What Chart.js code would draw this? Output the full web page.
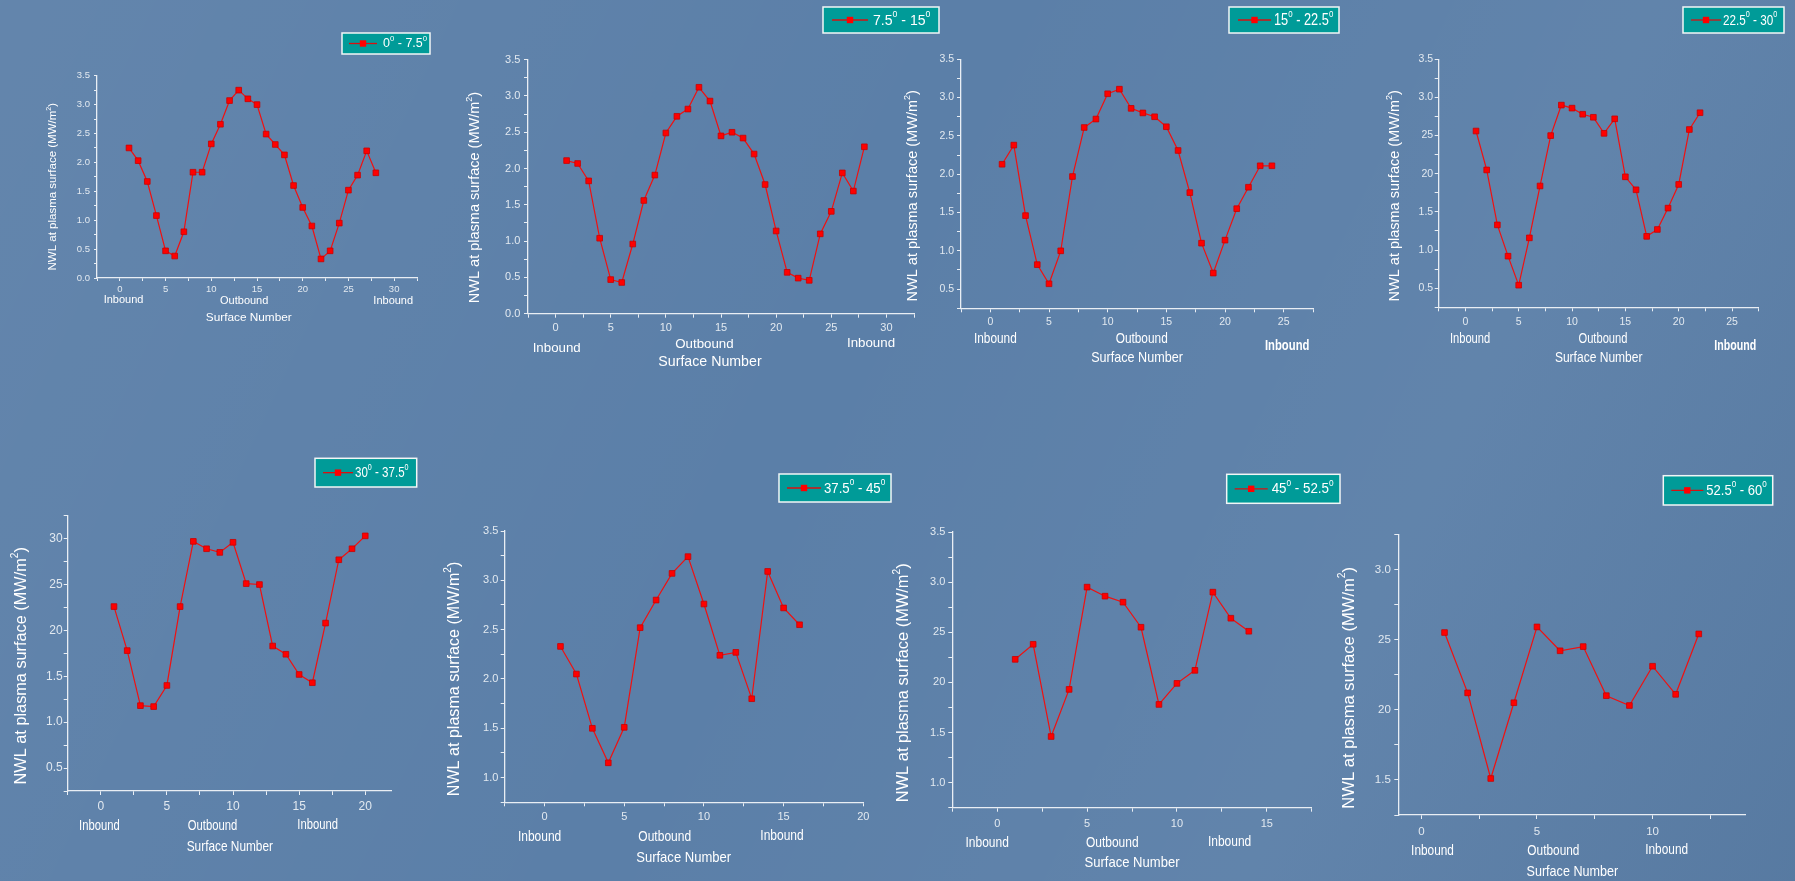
<!DOCTYPE html>
<html>
<head>
<meta charset="utf-8">
<script src="https://cdn.jsdelivr.net/npm/chart.js@4.4.1/dist/chart.umd.min.js"></script>
<style>
  html, body { margin: 0; padding: 0; }
  body {
    width: 1795px; height: 881px; overflow: hidden; position: relative;
    background: linear-gradient(115deg, rgba(255,255,255,0.05) 0%, rgba(255,255,255,0) 45%, rgba(255,255,255,0.04) 75%, rgba(0,0,0,0.04) 100%), #5b7fa8;
  }
  canvas { position: absolute; }
</style>
</head>
<body>
<script>
// surface numbers (x) for each panel
const surfaces28 = [1, 2, 3, 4, 5, 6, 7, 8, 9, 10, 11, 12, 13, 14, 15, 16, 17, 18, 19, 20, 21, 22, 23, 24, 25, 26, 27, 28];
const surfaces24 = [1, 2, 3, 4, 5, 6, 7, 8, 9, 10, 11, 12, 13, 14, 15, 16, 17, 18, 19, 20, 21, 22, 23, 24];
const surfaces22 = [1, 2, 3, 4, 5, 6, 7, 8, 9, 10, 11, 12, 13, 14, 15, 16, 17, 18, 19, 20, 21, 22];
const surfaces20 = [1, 2, 3, 4, 5, 6, 7, 8, 9, 10, 11, 12, 13, 14, 15, 16, 17, 18, 19, 20];
const surfaces16 = [1, 2, 3, 4, 5, 6, 7, 8, 9, 10, 11, 12, 13, 14, 15, 16];
const surfaces14 = [1, 2, 3, 4, 5, 6, 7, 8, 9, 10, 11, 12, 13, 14];
const surfaces12 = [1, 2, 3, 4, 5, 6, 7, 8, 9, 10, 11, 12];

// neutron wall load (MW/m2) per poloidal sector
const nwl_0_75 = [2.25, 2.03, 1.67, 1.08, 0.47, 0.38, 0.80, 1.83, 1.83, 2.32, 2.66, 3.07, 3.25, 3.10, 3.00, 2.49, 2.31, 2.13, 1.60, 1.22, 0.90, 0.33, 0.47, 0.95, 1.52, 1.78, 2.20, 1.82];
const nwl_75_15 = [2.11, 2.07, 1.83, 1.04, 0.47, 0.43, 0.96, 1.56, 1.91, 2.49, 2.72, 2.82, 3.12, 2.93, 2.45, 2.50, 2.42, 2.20, 1.78, 1.14, 0.57, 0.49, 0.46, 1.10, 1.41, 1.94, 1.69, 2.30];
const nwl_15_225 = [2.13, 2.38, 1.46, 0.82, 0.57, 1.00, 1.97, 2.61, 2.72, 3.05, 3.11, 2.86, 2.80, 2.75, 2.62, 2.31, 1.76, 1.10, 0.71, 1.14, 1.55, 1.83, 2.11, 2.11];
const nwl_225_30 = [2.56, 2.05, 1.33, 0.92, 0.54, 1.16, 1.84, 2.50, 2.90, 2.86, 2.78, 2.74, 2.53, 2.72, 1.96, 1.79, 1.18, 1.27, 1.55, 1.86, 2.58, 2.80];
const nwl_30_375 = [2.26, 1.78, 1.18, 1.17, 1.40, 2.26, 2.97, 2.89, 2.85, 2.96, 2.51, 2.50, 1.83, 1.74, 1.52, 1.43, 2.08, 2.77, 2.89, 3.03];
const nwl_375_45 = [2.33, 2.05, 1.50, 1.15, 1.51, 2.52, 2.80, 3.07, 3.24, 2.76, 2.24, 2.27, 1.80, 3.09, 2.72, 2.55];
const nwl_45_525 = [2.23, 2.38, 1.46, 1.93, 2.95, 2.86, 2.80, 2.55, 1.78, 1.99, 2.12, 2.90, 2.64, 2.51];
const nwl_525_60 = [2.55, 2.12, 1.51, 2.05, 2.59, 2.42, 2.45, 2.10, 2.03, 2.31, 2.11, 2.54];

const sectorLabels = ['0⁰ - 7.5⁰', '7.5⁰ - 15⁰', '15⁰ - 22.5⁰', '22.5⁰ - 30⁰', '30⁰ - 37.5⁰', '37.5⁰ - 45⁰', '45⁰ - 52.5⁰', '52.5⁰ - 60⁰'];

// tick labels
const xTicks30 = [0, 5, 10, 15, 20, 25, 30];
const xTicks25 = [0, 5, 10, 15, 20, 25];
const xTicks20 = [0, 5, 10, 15, 20];
const xTicks15 = [0, 5, 10, 15];
const xTicks10 = [0, 5, 10];
const yVals0 = [0, 0.5, 1, 1.5, 2, 2.5, 3, 3.5];
const yLabels0 = ['0.0', '0.5', '1.0', '1.5', '2.0', '2.5', '3.0', '3.5'];
const yVals05 = [0.5, 1, 1.5, 2, 2.5, 3, 3.5];
const yLabels3 = ['0.5', '1.0', '1.5', '2.0', '2.5', '3.0', '3.5'];
const yLabels4 = ['0.5', '1.0', '1.5', '20', '25', '3.0', '3.5'];
const yVals5 = [0.5, 1, 1.5, 2, 2.5, 3];
const yLabels5 = ['0.5', '1.0', '1.5', '20', '25', '30'];
const yVals1 = [1, 1.5, 2, 2.5, 3, 3.5];
const yLabels6 = ['1.0', '1.5', '2.0', '2.5', '3.0', '3.5'];
const yLabels7 = ['1.0', '1.5', '20', '25', '3.0', '3.5'];
const yVals8 = [1.5, 2, 2.5, 3];
const yLabels8 = ['1.5', '20', '25', '3.0'];

const yTitle = 'NWL at plasma surface (MW/m²)';
const xTitle = 'Surface Number';

const FONT = '"Liberation Sans", Arial, sans-serif';
const AXIS = '#e9eef4';
const TICK = '#e2e9f0';
const TEXT = '#ffffff';
const AXIS_W = 40;
const AXIS_H = 25;
Chart.defaults.font.family = FONT;

// page layout for each panel
const panels = [
  { x: surfaces28, y: nwl_0_75, label: sectorLabels[0], canvas: [30, 28, 410, 307], area: [97, 75.7, 417, 278],
    xr: [-2.5, 32.5], yr: [0, 3.5], xt: xTicks30, yv: yVals0, yl: yLabels0,
    tickSize: 9.5, tickLen: 3, xPad: 2.3, yPad: 4,
    legend: { box: [342, 33, 88, 21], line: [7, 35], dx: 41, size: 12.5, hs: 1 },
    title: { x: 53.3, y: 186.7, size: 11.5 },
    lab: { size: 11, hs: 1, items: [['Inbound', 0.4, 22], ['Outbound', 13.6, 23], ['Inbound', 29.9, 23]], sn: [14.1, 39.7, 11.8, 1] } },
  { x: surfaces28, y: nwl_75_15, label: sectorLabels[1], canvas: [455, 0, 490, 375], area: [528, 59.7, 914, 313.7],
    xr: [-2.5, 32.5], yr: [0, 3.5], xt: xTicks30, yv: yVals0, yl: yLabels0,
    tickSize: 11, tickLen: 4, xPad: 3.7, yPad: 3.7,
    legend: { box: [823, 7, 116, 26], line: [9, 45], dx: 50, size: 14.5, hs: 0.97 },
    title: { x: 475, y: 197.5, size: 14.5 },
    lab: { size: 13.3, hs: 1, items: [['Inbound', 0.1, 34.6], ['Outbound', 13.5, 30.3], ['Inbound', 28.6, 29.6]], sn: [14.0, 48, 14.2, 1] } },
  { x: surfaces24, y: nwl_15_225, label: sectorLabels[2], canvas: [895, 0, 450, 370], area: [961, 59.3, 1313, 308.3],
    xr: [-2.5, 27.5], yr: [0.25, 3.5], xt: xTicks25, yv: yVals05, yl: yLabels3,
    tickSize: 10.5, tickLen: 4, xPad: 3.7, yPad: 3,
    legend: { box: [1229, 7, 110, 26], line: [9, 42], dx: 45, size: 16, hs: 0.8 },
    title: { x: 913.3, y: 195.8, size: 14.5 },
    lab: { size: 15, hs: 0.79, items: [['Inbound', 0.43, 31], ['Outbound', 12.9, 31], ['Inbound', 25.3, 37.4, true]], sn: [12.5, 50, 15, 0.84] } },
  { x: surfaces22, y: nwl_225_30, label: sectorLabels[3], canvas: [1377, 0, 418, 370], area: [1438.7, 59.3, 1758.7, 307.3],
    xr: [-2.5, 27.5], yr: [0.25, 3.5], xt: xTicks25, yv: yVals05, yl: yLabels4,
    tickSize: 10.5, tickLen: 4, xPad: 4.7, yPad: 1.5,
    legend: { box: [1683, 7, 101, 26], line: [8, 38], dx: 40, size: 15, hs: 0.78 },
    title: { x: 1395, y: 195.8, size: 14.5 },
    lab: { size: 14.5, hs: 0.77, items: [['Inbound', 0.44, 32], ['Outbound', 12.9, 32], ['Inbound', 25.3, 38.4, true]], sn: [12.5, 51, 14.5, 0.83] } },
  { x: surfaces20, y: nwl_30_375, label: sectorLabels[4], canvas: [0, 452, 425, 408], area: [67.7, 515.7, 391.7, 791],
    xr: [-2.5, 22], yr: [0.25, 3.25], xt: xTicks20, yv: yVals5, yl: yLabels5,
    tickSize: 12, tickLen: 4, xPad: 4.5, yPad: 1,
    legend: { box: [315, 458.3, 101.7, 28.7], line: [8, 38], dx: 40, size: 15, hs: 0.77 },
    title: { x: 21.7, y: 665.8, size: 16.3 },
    lab: { size: 15, hs: 0.75, items: [['Inbound', -0.1, 34.7], ['Outbound', 8.45, 35], ['Inbound', 16.4, 34]], sn: [9.76, 55.7, 15, 0.79] } },
  { x: surfaces16, y: nwl_375_45, label: sectorLabels[5], canvas: [437, 468, 458, 407], area: [504.7, 531, 863.3, 802.3],
    xr: [-2.5, 20], yr: [0.75, 3.5], xt: xTicks20, yv: yVals1, yl: yLabels6,
    tickSize: 11, tickLen: 4, xPad: 4.1, yPad: 2.4,
    legend: { box: [779, 474, 112, 28], line: [8, 42], dx: 45, size: 15, hs: 0.88 },
    title: { x: 455, y: 679, size: 16.1 },
    lab: { size: 15, hs: 0.8, items: [['Inbound', -0.31, 34.4], ['Outbound', 7.54, 34.4], ['Inbound', 14.9, 33.7]], sn: [8.73, 55.4, 15, 0.87] } },
  { x: surfaces14, y: nwl_45_525, label: sectorLabels[6], canvas: [885, 468, 460, 413], area: [952.3, 532, 1311.7, 807.7],
    xr: [-2.5, 17.5], yr: [0.75, 3.5], xt: xTicks15, yv: yVals1, yl: yLabels7,
    tickSize: 11, tickLen: 4, xPad: 5.7, yPad: 3,
    legend: { box: [1226.7, 474.3, 113.3, 29], line: [8, 41], dx: 45, size: 15, hs: 0.89 },
    title: { x: 903.3, y: 682.8, size: 16.4 },
    lab: { size: 15, hs: 0.8, items: [['Inbound', -0.56, 35], ['Outbound', 6.4, 35.6], ['Inbound', 12.93, 34]], sn: [7.5, 55.6, 15, 0.87] } },
  { x: surfaces12, y: nwl_525_60, label: sectorLabels[7], canvas: [1331, 470, 464, 411], area: [1398.3, 534.3, 1745, 815],
    xr: [-1, 14], yr: [1.25, 3.25], xt: xTicks10, yv: yVals8, yl: yLabels8,
    tickSize: 11.5, tickLen: 4, xPad: 5.8, yPad: 3.5,
    legend: { box: [1663.3, 475.7, 109.4, 29.3], line: [8, 40], dx: 43, size: 15, hs: 0.87 },
    title: { x: 1349.3, y: 687.8, size: 16.6 },
    lab: { size: 15, hs: 0.79, items: [['Inbound', 0.48, 35.7], ['Outbound', 5.71, 35.7], ['Inbound', 10.61, 35]], sn: [6.53, 56.7, 15, 0.84] } },
];

const SUP = { '⁰': '0', '²': '2' };

// draws text with small raised superscripts, optionally squeezed horizontally
function drawRich(ctx, text, x, y, o) {
  const parts = [];
  for (const ch of text) {
    const last = parts[parts.length - 1];
    if (SUP[ch]) parts.push({ t: SUP[ch], sup: true });
    else if (last && !last.sup) last.t += ch;
    else parts.push({ t: ch, sup: false });
  }
  const weight = o.bold ? 'bold ' : '';
  const fN = weight + o.size + 'px ' + FONT;
  const fS = weight + (o.size * 0.62).toFixed(1) + 'px ' + FONT;
  ctx.save();
  let w = 0;
  parts.forEach((pt) => { ctx.font = pt.sup ? fS : fN; pt.w = ctx.measureText(pt.t).width; w += pt.w; });
  ctx.translate(x, y);
  if (o.rotate) ctx.rotate(o.rotate);
  ctx.scale(o.hs || 1, 1);
  let cx = o.align === 'left' ? 0 : -w / 2;
  ctx.fillStyle = o.color || TEXT;
  ctx.textAlign = 'left';
  ctx.textBaseline = 'middle';
  parts.forEach((pt) => {
    ctx.font = pt.sup ? fS : fN;
    ctx.fillText(pt.t, cx, pt.sup ? -o.size * 0.4 : 0);
    cx += pt.w;
  });
  ctx.restore();
}

function stepTicks(min, max, step) {
  const out = [];
  for (let v = Math.ceil(min / step - 1e-9) * step; v <= max + 1e-9; v += step) out.push({ value: +v.toFixed(4) });
  return out;
}

function labelFor(v, vals, labels) {
  const i = vals.findIndex((m) => Math.abs(m - v) < 1e-6);
  return i < 0 ? '' : labels[i];
}

function decor(p) {
  return {
    id: 'decor',
    afterDraw(chart) {
      const ctx = chart.ctx;
      const ox = p.canvas[0], oy = p.canvas[1];
      const xs = chart.scales.x;
      const bottom = chart.chartArea.bottom;

      drawRich(ctx, yTitle, p.title.x - ox, p.title.y - oy, { size: p.title.size, rotate: -Math.PI / 2 });

      p.lab.items.forEach(([t, v, dy, bold]) => {
        drawRich(ctx, t, xs.getPixelForValue(v), bottom + dy, { size: bold ? p.lab.size + 0.5 : p.lab.size, hs: bold ? p.lab.hs * 0.92 : p.lab.hs, bold: bold });
      });
      const sn = p.lab.sn;
      drawRich(ctx, xTitle, xs.getPixelForValue(sn[0]), bottom + sn[1], { size: sn[2], hs: sn[3] });

      // legend box
      const L = p.legend;
      const bx = L.box[0] - ox, by = L.box[1] - oy, bw = L.box[2], bh = L.box[3];
      const my = by + bh / 2;
      ctx.save();
      ctx.fillStyle = '#009b98';
      ctx.fillRect(bx, by, bw, bh);
      ctx.strokeStyle = '#f2f6f6';
      ctx.lineWidth = 1.5;
      ctx.strokeRect(bx, by, bw, bh);
      ctx.strokeStyle = '#d81010';
      ctx.lineWidth = 1.3;
      ctx.beginPath();
      ctx.moveTo(bx + L.line[0], my);
      ctx.lineTo(bx + L.line[1], my);
      ctx.stroke();
      const mx = bx + (L.line[0] + L.line[1]) / 2;
      ctx.fillStyle = '#ff0000';
      ctx.fillRect(mx - 3.2, my - 3.2, 6.4, 6.4);
      ctx.restore();
      drawRich(ctx, p.label, bx + L.dx, my + 0.5, { size: L.size, hs: L.hs, align: 'left' });
    },
  };
}

function makeChart(p) {
  const cv = document.createElement('canvas');
  cv.width = p.canvas[2];
  cv.height = p.canvas[3];
  cv.style.left = p.canvas[0] + 'px';
  cv.style.top = p.canvas[1] + 'px';
  document.body.appendChild(cv);
  const [l, t, r, b] = p.area;
  const pad = {
    left: l - p.canvas[0] - AXIS_W,
    top: t - p.canvas[1],
    right: p.canvas[0] + p.canvas[2] - r,
    bottom: p.canvas[1] + p.canvas[3] - b - AXIS_H,
  };
  const xLabels = p.xt.map(String);

  return new Chart(cv, {
    type: 'line',
    data: {
      datasets: [{
        data: p.x.map((s, i) => ({ x: s, y: p.y[i] })),
        borderColor: '#f01010',
        borderWidth: 1.2,
        pointStyle: 'rect',
        pointRadius: 4,
        pointBackgroundColor: '#ff0000',
        pointBorderColor: '#c80000',
        pointBorderWidth: 0.8,
        tension: 0,
        fill: false,
      }],
    },
    options: {
      responsive: false,
      animation: false,
      devicePixelRatio: 1,
      layout: { padding: pad },
      plugins: { legend: { display: false }, tooltip: { enabled: false } },
      scales: {
        x: {
          type: 'linear',
          min: p.xr[0],
          max: p.xr[1],
          afterBuildTicks: (s) => { s.ticks = stepTicks(p.xr[0], p.xr[1], 2.5); },
          afterFit: (s) => { s.height = AXIS_H; },
          grid: { drawOnChartArea: false, drawTicks: true, tickLength: p.tickLen, color: AXIS, lineWidth: 1 },
          border: { display: true, color: AXIS, width: 1.3 },
          ticks: {
            autoSkip: false, maxRotation: 0, padding: p.xPad, color: TICK,
            font: { size: p.tickSize },
            callback: (v) => labelFor(v, p.xt, xLabels),
          },
        },
        y: {
          type: 'linear',
          min: p.yr[0],
          max: p.yr[1],
          afterBuildTicks: (s) => { s.ticks = stepTicks(p.yr[0], p.yr[1], 0.25); },
          afterFit: (s) => { s.width = AXIS_W; },
          grid: { drawOnChartArea: false, drawTicks: true, tickLength: p.tickLen, color: AXIS, lineWidth: 1 },
          border: { display: true, color: AXIS, width: 1.3 },
          ticks: {
            autoSkip: false, padding: p.yPad, color: TICK,
            font: { size: p.tickSize },
            callback: (v) => labelFor(v, p.yv, p.yl),
          },
        },
      },
    },
    plugins: [decor(p)],
  });
}

panels.forEach(makeChart);
</script>
</body>
</html>
